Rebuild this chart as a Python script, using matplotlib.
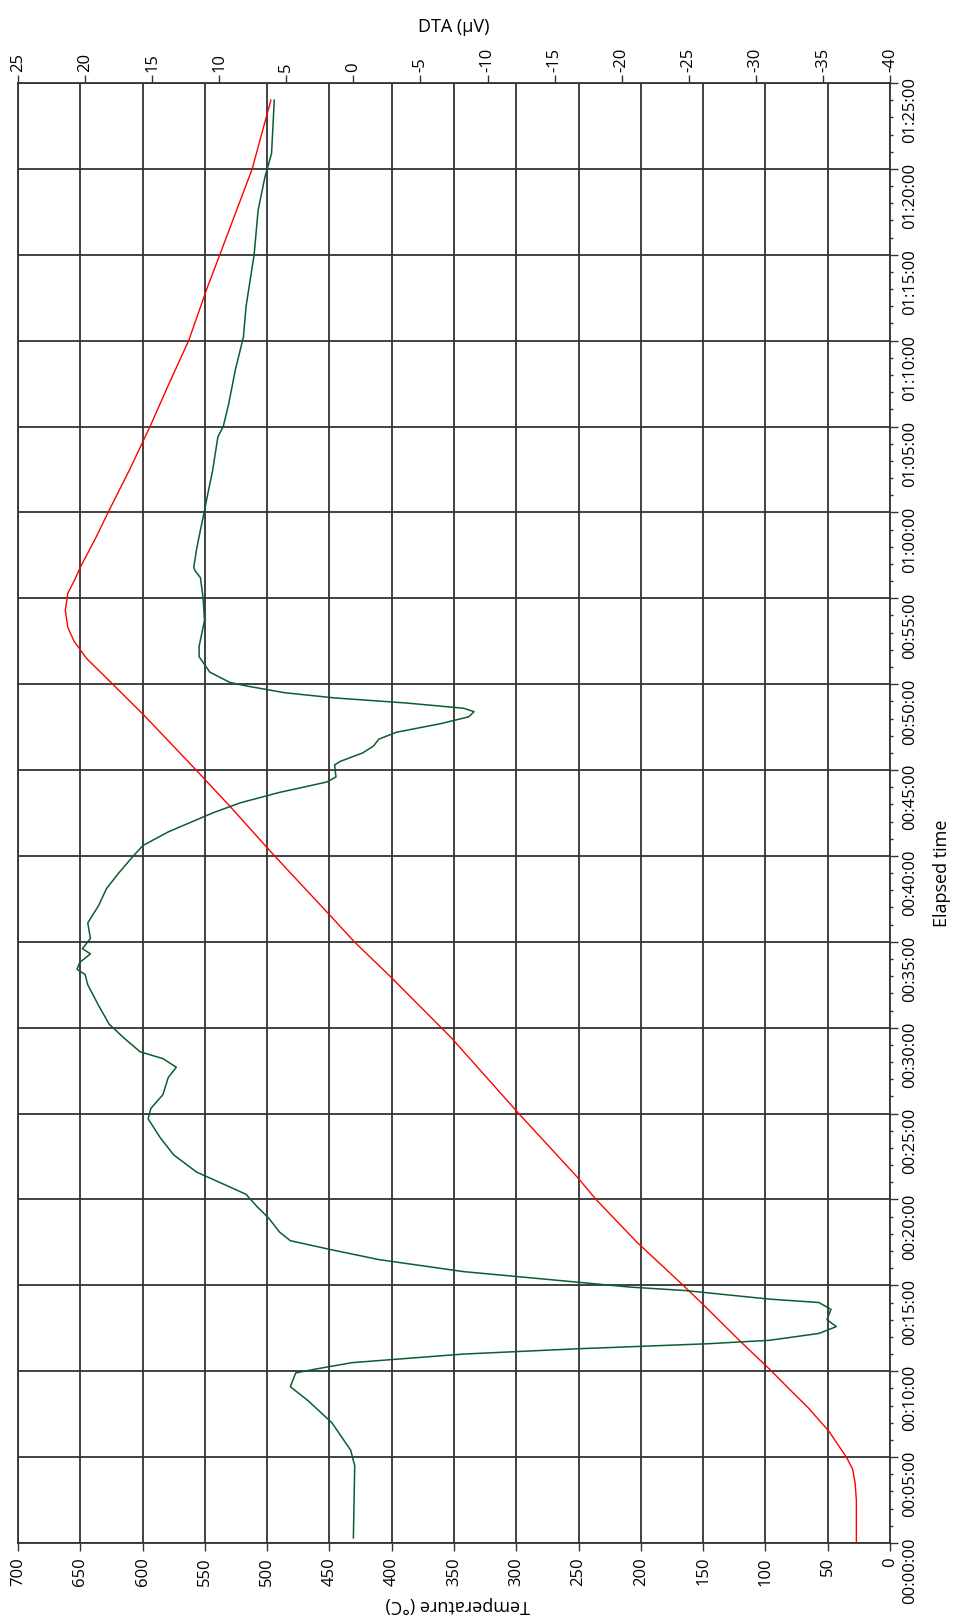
import matplotlib
matplotlib.use("Agg")
import matplotlib.pyplot as plt
from matplotlib.ticker import MultipleLocator, FuncFormatter

plt.rcParams["font.family"] = ["Open Sans", "DejaVu Sans"]
plt.rcParams["axes.unicode_minus"] = False

# furnace temperature (red), time in minutes
temp_time = [0, 2.5, 3.5, 4.3, 5, 6.5, 7.9, 8.9, 10, 11.8, 13.6, 15, 17.5, 20,
             21.3, 25, 29.4, 32.9, 35, 36.5, 40, 42.9, 45, 48.2, 50, 51.5, 52.5,
             53.3, 54.3, 55.3, 56.0, 56.8, 58.6, 60.1, 62.4, 65, 67.3, 70, 73.1,
             75, 80, 84]
temp_c = [27, 27, 28, 30, 35, 49, 66, 80, 95, 121, 146, 166, 203, 236,
          251, 298, 352, 400, 430, 449, 494, 530, 557, 599, 624, 645, 655,
          660, 662, 660, 655, 650, 637, 627, 611, 594, 580, 563, 548,
          538, 512, 497]

# DTA signal (green), time in minutes
dta_time = [0.3, 4.5, 5.4, 7.0, 8.3, 9.1, 9.9, 10.1, 10.5, 11.0,
            11.3, 11.6, 11.8, 12.2, 12.6, 13.0, 13.6, 14.0, 14.2, 14.7,
            14.9, 15.2, 15.8, 16.5, 17.1, 17.6, 18.1, 18.9, 19.6, 20.3,
            20.9, 21.6, 22.6, 23.6, 24.7, 25.3, 26.1, 27.1, 27.7, 28.2,
            28.6, 29.4, 30.2, 31.3, 32.5, 33.1, 33.4, 33.8, 34.3, 34.6,
            35.2, 36.1, 37.1, 38.1, 39.0, 40.0, 40.6, 41.4, 42.1, 42.5,
            43.1, 43.7, 44.3, 44.6, 45.3, 45.5, 46.0, 46.4, 46.8, 47.2,
            47.7, 48.1, 48.4, 48.6, 48.9, 49.2, 49.5, 49.9, 50.1, 50.7,
            51.6, 52.2, 53.7, 55.0, 56.2, 56.6, 56.8, 57.8, 58.6, 60.1,
            60.9, 62.4, 64.4, 65.0, 66.3, 68.3, 70.2, 72.0, 75.0, 77.6,
            79.5, 80.9, 82.4, 84.0]
dta_uv = [0.0, -0.1, 0.2, 1.6, 3.4, 4.7, 4.3, 3.0, 0.1, -8.2,
          -16.5, -26.4, -31.0, -34.7, -36.0, -35.3, -35.6, -34.7, -31.0, -24.7,
          -20.6, -16.5, -8.2, -1.9, 1.8, 4.7, 5.5, 6.3, 7.2, 8.0,
          9.7, 11.7, 13.4, 14.4, 15.3, 15.1, 14.2, 13.8, 13.2, 14.2,
          15.9, 17.1, 18.2, 19.0, 19.8, 20.0, 20.6, 20.4, 19.6, 20.2,
          19.6, 19.8, 19.0, 18.4, 17.5, 16.4, 15.7, 13.8, 11.7, 10.5,
          8.4, 5.5, 2.0, 1.3, 1.4, 1.0, -0.7, -1.5, -1.9, -3.2,
          -6.5, -8.6, -9.0, -8.2, -4.0, 1.4, 5.1, 8.0, 9.2, 10.7,
          11.5, 11.5, 11.1, 11.2, 11.4, 11.8, 11.9, 11.7, 11.5, 11.1,
          10.9, 10.5, 10.1, 9.7, 9.3, 8.8, 8.2, 8.0, 7.4, 7.1,
          6.6, 6.1, 6.0, 5.9]

temp_ticks = list(range(0, 701, 50))
dta_ticks = list(range(25, -41, -5))

W, H = 957, 1619
fig = plt.figure(figsize=(W / 100, H / 100), dpi=100)
# plot box in pixels: x 18..890, y 83..1543 (chart is drawn rotated)
ax = fig.add_axes([18 / W, (H - 1543) / H, 872 / W, 1460 / H])

grid_col = "#333333"

# temperature runs along the bottom, 700 on the left
ax.plot(temp_c, temp_time, color="#ff0000", lw=1.0, zorder=3)
ax.set_xlim(700, 0)
ax.set_ylim(0, 85)
ax.set_xticks(temp_ticks)
ax.yaxis.set_major_locator(MultipleLocator(5))
ax.yaxis.set_minor_locator(MultipleLocator(1))
ax.yaxis.set_major_formatter(
    FuncFormatter(lambda m, pos: f"{int(m // 60):02d}:{int(round(m % 60)):02d}:00"))
ax.yaxis.tick_right()
ax.grid(True, which="major", color=grid_col, lw=1.3)
ax.set_axisbelow(True)

ax.tick_params(axis="x", direction="out", length=6, width=1, pad=4,
               labelsize=12, labelrotation=90, color=grid_col)
ax.tick_params(axis="y", which="major", direction="out", length=6, width=1,
               pad=3, labelsize=12, labelrotation=90, color=grid_col)
ax.tick_params(axis="y", which="minor", direction="out", length=2.5, width=1,
               color=grid_col)
for s in ax.spines.values():
    s.set_color(grid_col)
    s.set_linewidth(1.3)

ax.set_xlabel("Temperature (°C)", fontsize=13, rotation=180, va="center", ha="center")
ax.xaxis.set_label_coords((458 - 18) / 872, (1543 - 1605) / 1460)
ax.yaxis.set_label_position("right")
ax.set_ylabel("Elapsed time", fontsize=13, rotation=90, va="center", ha="center")
ax.yaxis.set_label_coords((942 - 18) / 872, (1543 - 873) / 1460)

# DTA along the top, 25 on the left
ax2 = ax.twiny()
ax2.plot(dta_uv, dta_time, color="#0b5e2e", lw=1.1, zorder=4)
ax2.set_xlim(25, -40)
ax2.set_xticks(dta_ticks)
ax2.tick_params(axis="x", direction="out", length=6, width=1, pad=2,
                labelsize=12, labelrotation=90, color=grid_col)
for s in ax2.spines.values():
    s.set_visible(False)
ax2.set_xlabel("DTA (µV)", fontsize=13, va="center", ha="center")
ax2.xaxis.set_label_coords(0.5, (1543 - 27) / 1460)

fig.savefig("out.png", dpi=100)
